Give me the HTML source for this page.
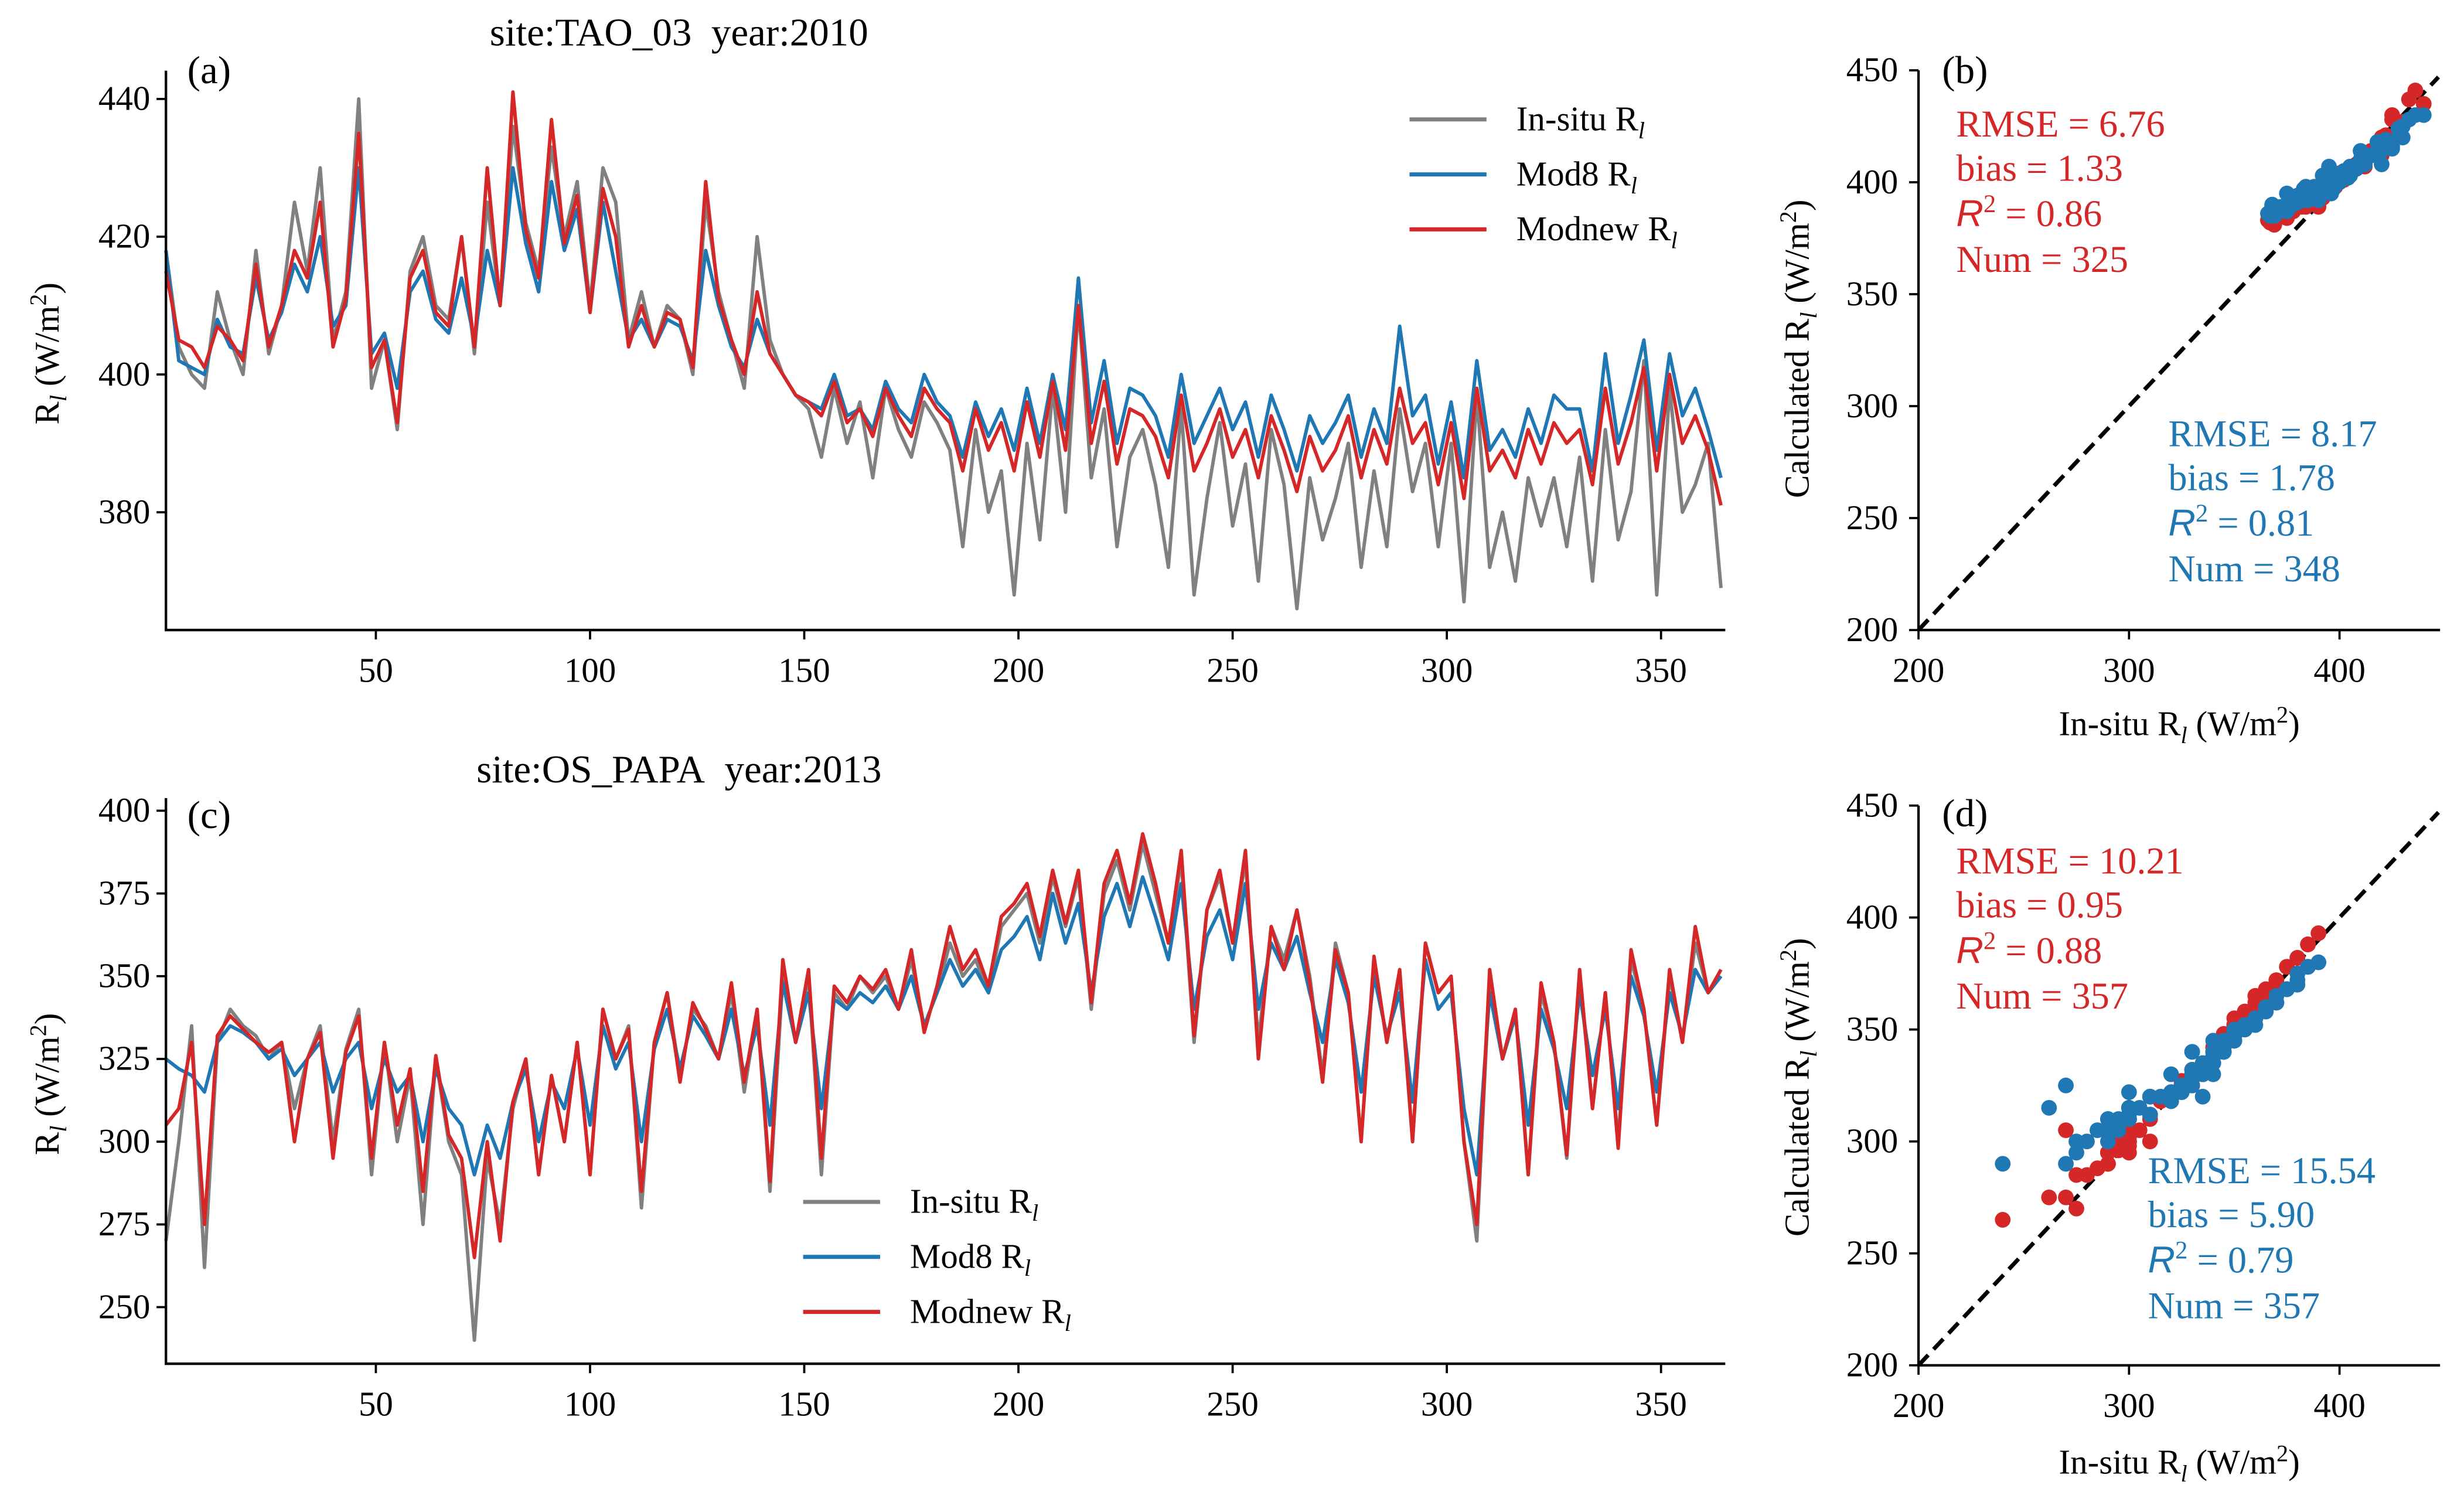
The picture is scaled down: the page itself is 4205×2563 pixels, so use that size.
<!DOCTYPE html>
<html><head><meta charset="utf-8"><style>
html,body{margin:0;padding:0;background:#fff}
svg{display:block;font-family:"Liberation Serif",serif}
</style></head><body>
<svg id="fig" width="4205" height="2563" viewBox="0 0 1568 956" xmlns="http://www.w3.org/2000/svg">
<rect width="1568" height="956" fill="#fff"/>
<text x="432" y="29" font-size="25" text-anchor="middle">site:TAO_03&#160;&#160;year:2010</text>
<text x="432" y="498" font-size="25" text-anchor="middle">site:OS_PAPA&#160;&#160;year:2013</text>
<text x="119" y="53" font-size="25">(a)</text>
<text x="119" y="527" font-size="25">(c)</text>
<text x="1236" y="53" font-size="25">(b)</text>
<text x="1236" y="526" font-size="25">(d)</text>
<text transform="translate(37,225) rotate(-90)" font-size="22" text-anchor="middle">R<tspan font-style="italic" font-size="15" dy="5">l</tspan><tspan dy="-5"> (W/m</tspan><tspan font-size="15" dy="-8">2</tspan><tspan dy="8">)</tspan></text>
<text transform="translate(37,690) rotate(-90)" font-size="22" text-anchor="middle">R<tspan font-style="italic" font-size="15" dy="5">l</tspan><tspan dy="-5"> (W/m</tspan><tspan font-size="15" dy="-8">2</tspan><tspan dy="8">)</tspan></text>
<text transform="translate(1151,222) rotate(-90)" font-size="22" text-anchor="middle">Calculated R<tspan font-style="italic" font-size="15" dy="5">l</tspan><tspan dy="-5"> (W/m</tspan><tspan font-size="15" dy="-8">2</tspan><tspan dy="8">)</tspan></text>
<text transform="translate(1151,692) rotate(-90)" font-size="22" text-anchor="middle">Calculated R<tspan font-style="italic" font-size="15" dy="5">l</tspan><tspan dy="-5"> (W/m</tspan><tspan font-size="15" dy="-8">2</tspan><tspan dy="8">)</tspan></text>
<text x="1387" y="468" font-size="22" text-anchor="middle">In-situ R<tspan font-style="italic" font-size="15" dy="5">l</tspan><tspan dy="-5"> (W/m</tspan><tspan font-size="15" dy="-8">2</tspan><tspan dy="8">)</tspan></text>
<text x="1387" y="938" font-size="22" text-anchor="middle">In-situ R<tspan font-style="italic" font-size="15" dy="5">l</tspan><tspan dy="-5"> (W/m</tspan><tspan font-size="15" dy="-8">2</tspan><tspan dy="8">)</tspan></text>
<g id="stats" font-size="24">
<text x="1245" y="87" fill="#d62728">RMSE = 6.76</text>
<text x="1245" y="115" fill="#d62728">bias = 1.33</text>
<text x="1245" y="144" fill="#d62728"><tspan font-family="Liberation Sans,sans-serif" font-style="italic">R</tspan><tspan font-size="16" dy="-9">2</tspan><tspan dy="9"> = 0.86</tspan></text>
<text x="1245" y="173" fill="#d62728">Num = 325</text>
<text x="1380" y="284" fill="#1f77b4">RMSE = 8.17</text>
<text x="1380" y="312" fill="#1f77b4">bias = 1.78</text>
<text x="1380" y="341" fill="#1f77b4"><tspan font-family="Liberation Sans,sans-serif" font-style="italic">R</tspan><tspan font-size="16" dy="-9">2</tspan><tspan dy="9"> = 0.81</tspan></text>
<text x="1380" y="370" fill="#1f77b4">Num = 348</text>
<text x="1245" y="556" fill="#d62728">RMSE = 10.21</text>
<text x="1245" y="584" fill="#d62728">bias = 0.95</text>
<text x="1245" y="613" fill="#d62728"><tspan font-family="Liberation Sans,sans-serif" font-style="italic">R</tspan><tspan font-size="16" dy="-9">2</tspan><tspan dy="9"> = 0.88</tspan></text>
<text x="1245" y="642" fill="#d62728">Num = 357</text>
<text x="1367" y="753" fill="#1f77b4">RMSE = 15.54</text>
<text x="1367" y="781" fill="#1f77b4">bias = 5.90</text>
<text x="1367" y="810" fill="#1f77b4"><tspan font-family="Liberation Sans,sans-serif" font-style="italic">R</tspan><tspan font-size="16" dy="-9">2</tspan><tspan dy="9"> = 0.79</tspan></text>
<text x="1367" y="839" fill="#1f77b4">Num = 357</text>
</g>
</svg>
<script>
// ---- data (every 3rd day, starting day 1) ----
const dayStep = 3;
const taoInsitu = [418,404,400,398,412,405,400,418,403,410,425,
415,430,405,412,440,398,405,392,415,420,410,
408,420,403,425,410,436,422,415,433,420,428,
410,430,425,405,412,404,410,408,400,425,412,
405,398,420,405,400,397,395,388,398,390,396,
385,398,392,388,396,393,389,375,392,380,386,
368,390,376,398,380,410,385,395,375,388,392,
384,372,395,368,382,393,378,387,370,392,384,
366,385,376,382,390,372,386,375,395,383,390,
375,390,367,397,372,380,370,385,378,385,375,
388,370,392,376,383,402,368,398,380,384,390,369];
const taoMod8 = [418,402,401,400,408,404,403,414,405,409,416,
412,420,407,410,430,403,406,398,412,415,408,
406,414,405,418,410,430,419,412,428,418,424,
409,425,415,405,408,404,408,407,402,418,410,
404,401,408,403,400,397,396,395,400,394,395,
392,399,395,393,400,396,394,388,396,391,395,
389,398,390,400,392,414,393,402,390,398,397,
394,388,400,390,394,398,392,396,388,397,392,
386,394,390,393,397,388,395,390,407,394,397,
387,396,385,402,389,392,388,395,390,397,395,
395,386,403,390,397,405,389,403,394,398,392,385];
const taoModnew = [415,405,404,401,407,405,402,416,404,410,418,
414,425,404,411,435,401,405,393,414,418,409,
407,420,404,430,410,441,421,414,437,419,426,
409,427,420,404,410,404,409,408,401,428,411,
405,400,412,403,400,397,396,394,399,393,395,
391,398,394,391,398,395,393,386,395,389,393,
386,396,388,399,389,410,390,399,387,395,394,
391,385,397,386,390,395,388,392,385,394,389,
383,391,386,389,394,385,392,387,398,390,393,
384,393,382,398,386,389,385,392,387,393,390,
392,384,398,387,393,401,386,400,390,394,389,381];
const papaInsitu = [270,300,335,262,330,340,335,332,325,330,310,
325,335,300,328,340,290,330,300,320,275,325,
300,290,240,295,275,310,325,290,320,300,330,
290,340,325,335,280,330,345,320,340,335,325,
345,315,340,285,350,330,350,290,345,340,350,
345,350,340,355,335,345,360,350,355,345,365,
370,375,360,380,365,380,340,375,385,370,390,
375,360,385,330,370,380,360,385,330,365,355,
370,350,320,360,345,300,355,330,350,300,360,
345,350,300,270,350,325,340,290,345,330,295,
350,310,345,300,355,340,305,350,330,360,345,350];
const papaMod8 = [325,322,320,315,330,335,333,330,325,328,320,
325,330,315,325,330,310,325,315,320,300,322,
310,305,290,305,295,312,322,300,318,310,328,
305,335,322,330,300,328,340,322,338,332,325,
340,320,335,305,348,330,345,310,343,340,345,
342,347,340,350,335,345,355,347,352,345,358,
362,368,355,375,360,372,345,368,378,365,380,
368,355,378,340,362,370,355,378,340,360,352,
362,345,330,355,342,315,350,332,345,312,355,
340,345,310,290,345,325,338,305,340,328,310,
345,320,340,310,350,338,315,345,332,352,345,350];
const papaModnew = [305,310,330,275,332,338,334,330,327,330,300,
325,333,295,327,338,295,330,305,322,285,326,
302,295,265,300,270,312,325,290,320,300,330,
290,340,325,334,285,330,345,318,342,334,325,
348,318,340,288,355,330,352,295,347,342,350,
346,352,340,358,333,347,365,352,358,347,368,
372,378,362,382,366,382,342,378,388,372,393,
378,360,388,332,370,382,360,388,325,365,352,
370,348,318,358,345,300,356,330,352,300,360,
345,350,300,275,352,325,340,290,348,330,296,
352,310,345,298,358,340,305,352,330,365,345,352];
const dayTicks = [50,100,150,200,250,300,350];
const taoYTicks = [380,400,420,440];
const papaYTicks = [250,275,300,325,350,375,400];
const scatterTicksX = [200,300,400];
const scatterTicksY = [200,250,300,350,400,450];

const NS = "http://www.w3.org/2000/svg";
const svg = document.getElementById('fig');
function mk(tag, attrs, parent) {
  const e = document.createElementNS(NS, tag);
  for (const k in attrs) e.setAttribute(k, attrs[k]);
  (parent || svg).appendChild(e);
  return e;
}
const C = {gray:"#808080", blue:"#1f77b4", red:"#d62728"};

function tsAxis(x0, x1, yBottom, yTop, vmin, vmax) {
  return {
    x: d => x0 + (d - 1) * (x1 - x0) / 364,
    y: v => yBottom - (v - vmin) * (yBottom - yTop) / (vmax - vmin),
    x0, x1, yBottom, yTop
  };
}
const axA = tsAxis(105.4, 1098, 401, 45, 362.9, 444.1);
const axC = tsAxis(105.4, 1098, 868, 508, 232.9, 403.8);

function drawTS(ax, key, yticks, series, names) {
  const g = mk('g', {});
  
  
  series.forEach((s, si) => {
    const pts = s.vals.map((v, i) => ax.x(1 + i * dayStep).toFixed(2) + ',' + ax.y(v).toFixed(2)).join(' ');
    const p = mk('polyline', {points: pts, fill: 'none', stroke: s.color, 'stroke-width': 2.2, 'stroke-linejoin': 'round'}, g);
    
    
  });
  const sp = mk('path', {d: `M${ax.x0},${ax.yTop}V${ax.yBottom}H${ax.x1}`, fill: 'none', stroke: '#000', 'stroke-width': 1.6}, g);
  
  
  dayTicks.forEach(d => {
    const t = mk('line', {x1: ax.x(d), x2: ax.x(d), y1: ax.yBottom, y2: ax.yBottom + 6, stroke: '#000', 'stroke-width': 1.4}, g);
    
    
    const l = mk('text', {x: ax.x(d), y: ax.yBottom + 33, 'font-size': 22, 'text-anchor': 'middle'}, g);
    
    
    l.textContent = d;
  });
  yticks.forEach(v => {
    const t = mk('line', {x1: ax.x0 - 6, x2: ax.x0, y1: ax.y(v), y2: ax.y(v), stroke: '#000', 'stroke-width': 1.4}, g);
    
    
    const l = mk('text', {x: ax.x0 - 10, y: ax.y(v) + 7, 'font-size': 22, 'text-anchor': 'end'}, g);
    
    
    l.textContent = v;
  });
}
drawTS(axA, 'panel-a', taoYTicks, [{vals: taoInsitu, color: C.gray}, {vals: taoMod8, color: C.blue}, {vals: taoModnew, color: C.red}], ['line-insitu-a', 'line-mod8-a', 'line-modnew-a']);
drawTS(axC, 'panel-c', papaYTicks, [{vals: papaInsitu, color: C.gray}, {vals: papaMod8, color: C.blue}, {vals: papaModnew, color: C.red}], ['line-insitu-c', 'line-mod8-c', 'line-modnew-c']);

function legend(x, y0, key) {
  const items = [['In-situ', C.gray], ['Mod8', C.blue], ['Modnew', C.red]];
  items.forEach((it, i) => {
    const y = y0 + i * 35;
    const ln = mk('line', {x1: x, x2: x + 49, y1: y, y2: y, stroke: it[1], 'stroke-width': 2.6});
    
    
    const t = mk('text', {x: x + 68, y: y + 7, 'font-size': 22});
    
    
    t.innerHTML = it[0] + ' R<tspan font-style="italic" font-size="15" dy="5">l</tspan>';
  });
}
legend(897, 76, 'panel-a');
legend(511, 765, 'panel-c');

function scAxis(yBottom) {
  return {
    x: v => 1221 + (v - 200) * 1.34,
    y: v => yBottom - (v - 200) * 1.425,
    yBottom
  };
}
function drawScatter(ax, key, ins, m8, mn) {
  const g = mk('g', {});
  
  
  const dl = mk('line', {x1: ax.x(200), y1: ax.y(200), x2: ax.x(447), y2: ax.y(447), stroke: '#000', 'stroke-width': 2.6, 'stroke-dasharray': '9,5'}, g);
  
  
  mn.forEach((v, i) => {
    const c = mk('circle', {cx: ax.x(ins[i]), cy: ax.y(v), r: 5, fill: C.red}, g);
    
    
  });
  m8.forEach((v, i) => {
    const c = mk('circle', {cx: ax.x(ins[i]), cy: ax.y(v), r: 5, fill: C.blue}, g);
    
    
  });
  const sp = mk('path', {d: `M1221,${ax.y(450)}V${ax.yBottom}H1553`, fill: 'none', stroke: '#000', 'stroke-width': 1.6}, g);
  
  
  scatterTicksX.forEach(v => {
    const t = mk('line', {x1: ax.x(v), x2: ax.x(v), y1: ax.yBottom, y2: ax.yBottom + 6, stroke: '#000', 'stroke-width': 1.4}, g);
    
    
    const l = mk('text', {x: ax.x(v), y: ax.yBottom + 33, 'font-size': 22, 'text-anchor': 'middle'}, g);
    
    
    l.textContent = v;
  });
  scatterTicksY.forEach(v => {
    const t = mk('line', {x1: 1215, x2: 1221, y1: ax.y(v), y2: ax.y(v), stroke: '#000', 'stroke-width': 1.4}, g);
    
    
    const l = mk('text', {x: 1208, y: ax.y(v) + 7, 'font-size': 22, 'text-anchor': 'end'}, g);
    
    
    l.textContent = v;
  });
}
drawScatter(scAxis(401), 'panel-b', taoInsitu, taoMod8, taoModnew);
drawScatter(scAxis(869), 'panel-d', papaInsitu, papaMod8, papaModnew);
svg.appendChild(document.getElementById('stats'));
</script>
</body></html>
